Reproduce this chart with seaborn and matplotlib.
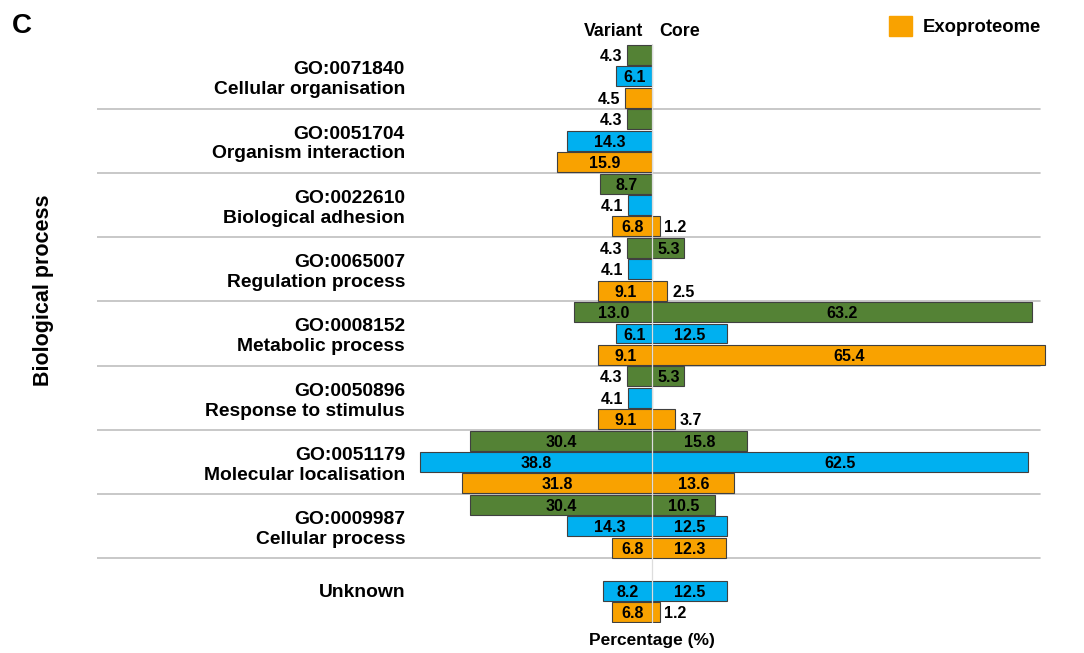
import numpy as np
import pandas as pd
import matplotlib
matplotlib.use('Agg')
import matplotlib.pyplot as plt
from matplotlib.patches import Patch
import seaborn as sns

# GO terms (top to bottom)
go_ids = ['GO:0071840', 'GO:0051704', 'GO:0022610', 'GO:0065007',
          'GO:0008152', 'GO:0050896', 'GO:0051179', 'GO:0009987', '']
terms = ['Cellular organisation', 'Organism interaction', 'Biological adhesion',
         'Regulation process', 'Metabolic process', 'Response to stimulus',
         'Molecular localisation', 'Cellular process', 'Unknown']

series = ['Genome', 'Secretome', 'Exoproteome']
colors = {'Genome': '#548235', 'Secretome': '#00B0F0', 'Exoproteome': '#F9A200'}

# percentages, variant (left) and core (right)
variant_genome = [4.3, 4.3, 8.7, 4.3, 13.0, 4.3, 30.4, 30.4, np.nan]
core_genome = [0, 0, 0, 5.3, 63.2, 5.3, 15.8, 10.5, np.nan]
variant_secretome = [6.1, 14.3, 4.1, 4.1, 6.1, 4.1, 38.8, 14.3, 8.2]
core_secretome = [0, 0, 0, 0, 12.5, 0, 62.5, 12.5, 12.5]
variant_exo = [4.5, 15.9, 6.8, 9.1, 9.1, 9.1, 31.8, 6.8, 6.8]
core_exo = [0, 0, 1.2, 2.5, 65.4, 3.7, 13.6, 12.3, 1.2]

variant = {'Genome': variant_genome, 'Secretome': variant_secretome, 'Exoproteome': variant_exo}
core = {'Genome': core_genome, 'Secretome': core_secretome, 'Exoproteome': core_exo}

rows = []
for g in range(len(terms)):
    for s, name in enumerate(series):
        rows.append({'pos': g * 3 + s, 'series': name,
                     'variant': variant[name][g], 'core': core[name][g]})
df = pd.DataFrame(rows)

sns.set_style('white')
plt.rcParams['font.family'] = ['Liberation Sans', 'DejaVu Sans']
plt.rcParams['font.weight'] = 'bold'
plt.rcParams['text.color'] = 'black'

W, H = 1084, 653
fig = plt.figure(figsize=(W / 100, H / 100), dpi=100)
ax_left, ax_right, ax_top, ax_bot = 97, 1048, 44.3, 622.7
ax = fig.add_axes([ax_left / W, 1 - ax_bot / H, (ax_right - ax_left) / W, (ax_bot - ax_top) / H])

zero_px, px_per_unit = 652.5, 6.0
ax.set_xlim(-(zero_px - ax_left) / px_per_unit, (ax_right - zero_px) / px_per_unit)

left = df[df['variant'] > 0].copy()
left['neg'] = -left['variant']
right = df[df['core'] > 0].copy()

for d, col in [(left, 'neg'), (right, 'core')]:
    sns.barplot(data=d, x=col, y='pos', hue='series', hue_order=series, palette=colors,
                orient='h', native_scale=True, dodge=False, width=0.93, errorbar=None,
                saturation=1, edgecolor='#404040', linewidth=0.8, legend=False, ax=ax)

ax.set_ylim(len(terms) * 3 - 0.5, -0.5)

# value labels
for _, r in df.iterrows():
    for val, sign in [(r['variant'], -1), (r['core'], 1)]:
        if not val > 0:
            continue
        if val >= 5:
            ax.text(sign * val / 2, r['pos'], f'{val:.1f}', ha='center', va='center_baseline',
                    fontsize=11.5, zorder=6)
        else:
            ax.text(sign * (val + 0.8), r['pos'], f'{val:.1f}',
                    ha='right' if sign < 0 else 'left', va='center_baseline',
                    fontsize=11.5, zorder=6)

# separators between groups
line_end = (1040 - ax_left) / (ax_right - ax_left)
for g in range(len(terms) - 1):
    ax.axhline(g * 3 + 2.5, xmin=0, xmax=line_end, color='#BFBFBF', lw=1.2, zorder=0)

# zero line drawn over the bars
ax.axvline(0, color='#DDDDDD', lw=0.9, zorder=5)

# category labels
lab_x = (405 - ax_left) / (ax_right - ax_left)
trans = ax.get_yaxis_transform()
for g in range(len(terms)):
    y = g * 3 + 1
    if go_ids[g]:
        ax.text(lab_x, y - 0.1, go_ids[g], transform=trans, ha='right', va='baseline', fontsize=13.9)
        ax.text(lab_x, y + 0.83, terms[g], transform=trans, ha='right', va='baseline', fontsize=13.9)
    else:
        ax.text(lab_x, y + 0.28, terms[g], transform=trans, ha='right', va='baseline', fontsize=13.9)

ax.set_xlabel('')
ax.set_ylabel('')
ax.set_xticks([])
ax.set_yticks([])
for sp in ax.spines.values():
    sp.set_visible(False)

fig.text(12 / W, 1 - 13 / H, 'C', ha='left', va='top', fontsize=20)
fig.text(44 / W, 1 - 290 / H, 'Biological process', rotation=90, ha='center', va='center', fontsize=15.5)
fig.text(652 / W, 1 - 641 / H, 'Percentage (%)', ha='center', va='center', fontsize=12.5)
fig.text(643 / W, 1 - 31 / H, 'Variant', ha='right', va='center', fontsize=12.8)
fig.text(659 / W, 1 - 31 / H, 'Core', ha='left', va='center', fontsize=12.8)

ax.legend(handles=[Patch(facecolor=colors['Exoproteome'], edgecolor=colors['Exoproteome'])],
          labels=['Exoproteome'], loc='upper left', bbox_to_anchor=(889 / W, 1 - 16 / H),
          bbox_transform=fig.transFigure, frameon=False, fontsize=13.3,
          handlelength=1.25, handleheight=1.25, handletextpad=0.55, borderpad=0, borderaxespad=0)

fig.savefig('out.png', dpi=100)
